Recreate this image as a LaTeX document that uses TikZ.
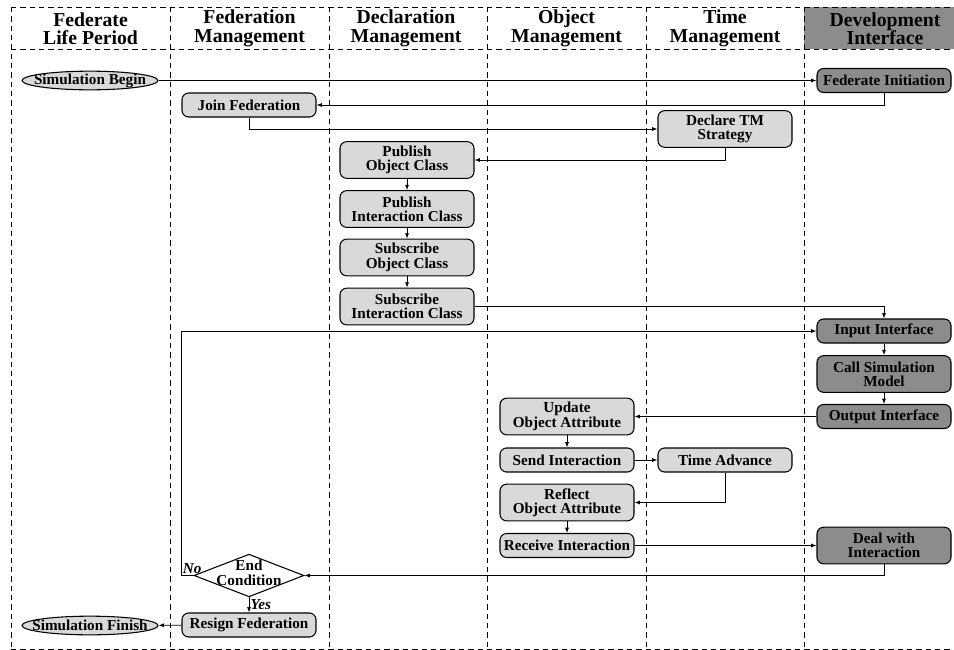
\documentclass[tikz,border=0pt]{standalone}
\usepackage{fontspec}
\setmainfont{Liberation Serif}
\usepackage{color}
\usepackage{tikz}
\usetikzlibrary{shapes.geometric,arrows.meta}
\definecolor{boxlight}{HTML}{D9D9D9}
\definecolor{boxdark}{HTML}{8C8C8C}

\begin{document}
\begin{tikzpicture}[x=0.75pt, y=-0.75pt, line width=0.6pt, >={Latex[length=4pt,width=3pt]}, % 1単位=1px、y軸は下向き
  lane/.style={dash pattern=on 4pt off 3pt, line width=0.7pt}, % 破線の枠
  head/.style={font=\fontsize{14.8pt}{13.8pt}\selectfont\bfseries, align=center},
  boxfont/.style={font=\fontsize{11.4pt}{10.8pt}\selectfont\bfseries, align=center},
  box/.style={boxfont, draw, line width=0.8pt, rounded corners=5pt, fill=boxlight, minimum width=100.5pt, minimum height=18pt, inner sep=1pt},
  tallbox/.style={box, minimum height=27.5pt}, % 2行の箱
  devbox/.style={box, fill=boxdark},
  devtall/.style={tallbox, fill=boxdark},
  term/.style={ellipse, draw, line width=0.8pt, fill=boxlight, minimum width=102pt, minimum height=14pt, inner sep=0pt},
  decision/.style={diamond, draw, line width=0.8pt, minimum width=82.5pt, minimum height=32pt, inner sep=0pt},
  lbl/.style={font=\fontsize{11.4pt}{10.5pt}\selectfont\bfseries\itshape, inner sep=1pt}]
  \useasboundingbox (0,0) rectangle (954,650); % 余白込みの大きさ

  \fill[boxdark] (804,7) rectangle (954,49); % 開発インタフェースの見出し
  \draw[lane] (11,7) -- (954,7); % 外枠
  \draw[lane] (11,49) -- (954,49);
  \draw[lane] (11,649) -- (954,649);
  \draw[lane] (11,7) -- (11,649);
  \draw[lane] (170,7) -- (170,649); % 列の区切り
  \draw[lane] (329,7) -- (329,649);
  \draw[lane] (487,7) -- (487,649);
  \draw[lane] (646,7) -- (646,649);
  \draw[lane] (804,7) -- (804,649);

  \node[head] (h1) at (90.5,28.5) {Federate\\Life Period}; % 見出し
  \node[head] (h2) at (249.5,28.5) {Federation\\Management};
  \node[head] (h3) at (406,28.5) {Declaration\\Management};
  \node[head] (h4) at (566.5,28.5) {Object\\Management};
  \node[head] (h5) at (725,28.5) {Time\\Management};
  \node[head] (h6) at (885,28.5) {Development\\Interface};

  \node[term, label={[boxfont]center:Simulation Begin}] (simbeg) at (90,80.5) {};
  \node[devbox] (fedinit) at (884,80.5) {Federate Initiation};
  \node[box] (join) at (249,105) {Join Federation};
  \node[tallbox] (tm) at (725,129) {Declare TM\\Strategy};
  \node[tallbox] (pubobj) at (407,160) {Publish\\Object Class};
  \node[tallbox] (pubint) at (407,209) {Publish\\Interaction Class};
  \node[tallbox] (subobj) at (407,257.5) {Subscribe\\Object Class};
  \node[tallbox] (subint) at (407,306.5) {Subscribe\\Interaction Class};
  \node[devbox] (input) at (884,331) {Input Interface};
  \node[devtall] (callsim) at (884,374) {Call Simulation\\Model};
  \node[devbox] (output) at (884,416.5) {Output Interface};
  \node[tallbox] (update) at (567,416.5) {Update\\Object Attribute};
  \node[box] (send) at (567,460) {Send Interaction};
  \node[box] (timeadv) at (725,460) {Time Advance};
  \node[tallbox] (reflect) at (567,502.5) {Reflect\\Object Attribute};
  \node[box] (receive) at (567,545.5) {Receive Interaction};
  \node[devtall] (deal) at (884,545.5) {Deal with\\Interaction};
  \node[decision, label={[boxfont, yshift=2pt]center:End\\Condition}] (endc) at (249,575.5) {}; % 終了判定
  \node[box] (resign) at (249,625) {Resign Federation};
  \node[term, label={[boxfont]center:Simulation Finish}] (simfin) at (90,625.5) {};

  \draw[->] (simbeg) -- (fedinit); % 流れ
  \draw[->] (fedinit.south) |- (join.east);
  \draw[->] (join.south) |- (tm.west);
  \draw[->] (tm.south) |- (pubobj.east);
  \draw[->] (pubobj) -- (pubint);
  \draw[->] (pubint) -- (subobj);
  \draw[->] (subobj) -- (subint);
  \draw[->] (subint.east) -| (input.north);
  \draw[->] (input) -- (callsim);
  \draw[->] (callsim) -- (output);
  \draw[->] (output) -- (update);
  \draw[->] (update) -- (send);
  \draw[->] (send) -- (timeadv);
  \draw[->] (timeadv.south) |- (reflect.east);
  \draw[->] (reflect) -- (receive);
  \draw[->] (receive) -- (deal);
  \draw[->] (deal.south) |- (endc.east);
  \draw[->] (endc.west) -- (endc.west -| join.west) |- (input.west); % ループ
  \draw[->] (endc.south) -- (resign.north) node[lbl, midway, right] (yes) {Yes};
  \draw[->] (resign) -- (simfin);
  \node[lbl, above] (no) at ([xshift=-1pt]endc.west) {No};
\end{tikzpicture}
\end{document}
